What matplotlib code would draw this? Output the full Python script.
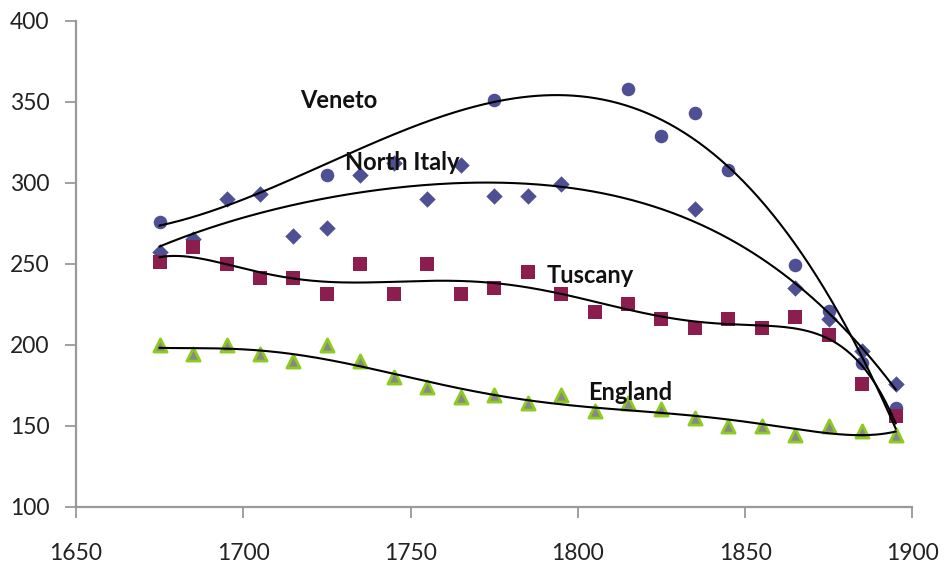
import numpy as np
import matplotlib
matplotlib.use("Agg")
import matplotlib.pyplot as plt

plt.rcParams['font.family'] = ['Lato', 'DejaVu Sans']

# ---- data ----
veneto_years = [1675, 1725, 1775, 1815, 1825, 1835, 1845, 1865, 1875, 1885, 1895]
veneto_vals = [276, 305, 351, 358, 329, 343, 308, 249, 221, 189, 161]

north_years = [1675, 1685, 1695, 1705, 1715, 1725, 1735, 1745, 1755, 1765, 1775, 1785,
               1795, 1835, 1865, 1875, 1885, 1895]
north_vals = [257, 265, 290, 293, 267, 272, 305, 312, 290, 311, 292, 292,
              299, 284, 235, 216, 196, 176]

tuscany_years = list(range(1675, 1896, 10))
tuscany_vals = [251, 260, 250, 241, 241, 231, 250, 231, 250, 231, 235, 245,
                231, 220, 225, 216, 210, 216, 210, 217, 206, 176, 156]

england_years = list(range(1675, 1896, 10))
england_vals = [200, 194, 200, 194, 190, 200, 190, 180, 174, 168, 169, 164,
                169, 159, 164, 160, 155, 150, 150, 144, 150, 147, 144]

labels = ["Veneto", "North Italy", "Tuscany", "England"]
label_pos = [(1728.6, 346), (1747.4, 308), (1803.7, 238), (1815.6, 166)]

x_ticks = [1650, 1700, 1750, 1800, 1850, 1900]
y_ticks = [100, 150, 200, 250, 300, 350, 400]

# ---- figure ----
fig = plt.figure(figsize=(9.44, 5.65), dpi=100)
ax = fig.add_axes([0.0805, 0.1032, 0.886, 0.8602])

blue = "#4f4f94"
maroon = "#8b1e4e"

ax.scatter(veneto_years, veneto_vals, marker='o', s=95, color=blue, zorder=3, linewidths=0)
ax.scatter(north_years, north_vals, marker='D', s=70, color=blue, zorder=3, linewidths=0)
ax.scatter(tuscany_years, tuscany_vals, marker='s', s=95, color=maroon, zorder=3, linewidths=0)
ax.scatter(england_years, england_vals, marker='^', s=90, color="#888888",
           edgecolors="#8ccc1e", linewidths=2, zorder=3)

def trend(xs, ys, deg):
    p = np.polynomial.Polynomial.fit(xs, ys, deg)
    xx = np.linspace(min(xs), max(xs), 300)
    ax.plot(xx, p(xx), color='black', lw=1.5, zorder=4)

trend(veneto_years, veneto_vals, 3)
trend(north_years, north_vals, 4)
trend(tuscany_years, tuscany_vals, 6)
trend(england_years, england_vals, 6)

for lab, (lx, ly) in zip(labels, label_pos):
    ax.text(lx, ly, lab, fontsize=17, fontweight='bold', ha='center', va='baseline',
            color='#111111', zorder=5)

ax.set_xlim(1650, 1900)
ax.set_ylim(100, 400)
ax.set_xticks(x_ticks)
ax.set_yticks(y_ticks)
for s in ['top', 'right']:
    ax.spines[s].set_visible(False)
for s in ['left', 'bottom']:
    ax.spines[s].set_color('#999999')
    ax.spines[s].set_linewidth(1.6)
ax.tick_params(axis='both', colors='#999999', length=8, width=1.3, labelcolor='#222222',
               labelsize=16.5)
ax.tick_params(axis='x', pad=18)
ax.tick_params(axis='y', pad=11)

fig.savefig("out.png", dpi=100)
